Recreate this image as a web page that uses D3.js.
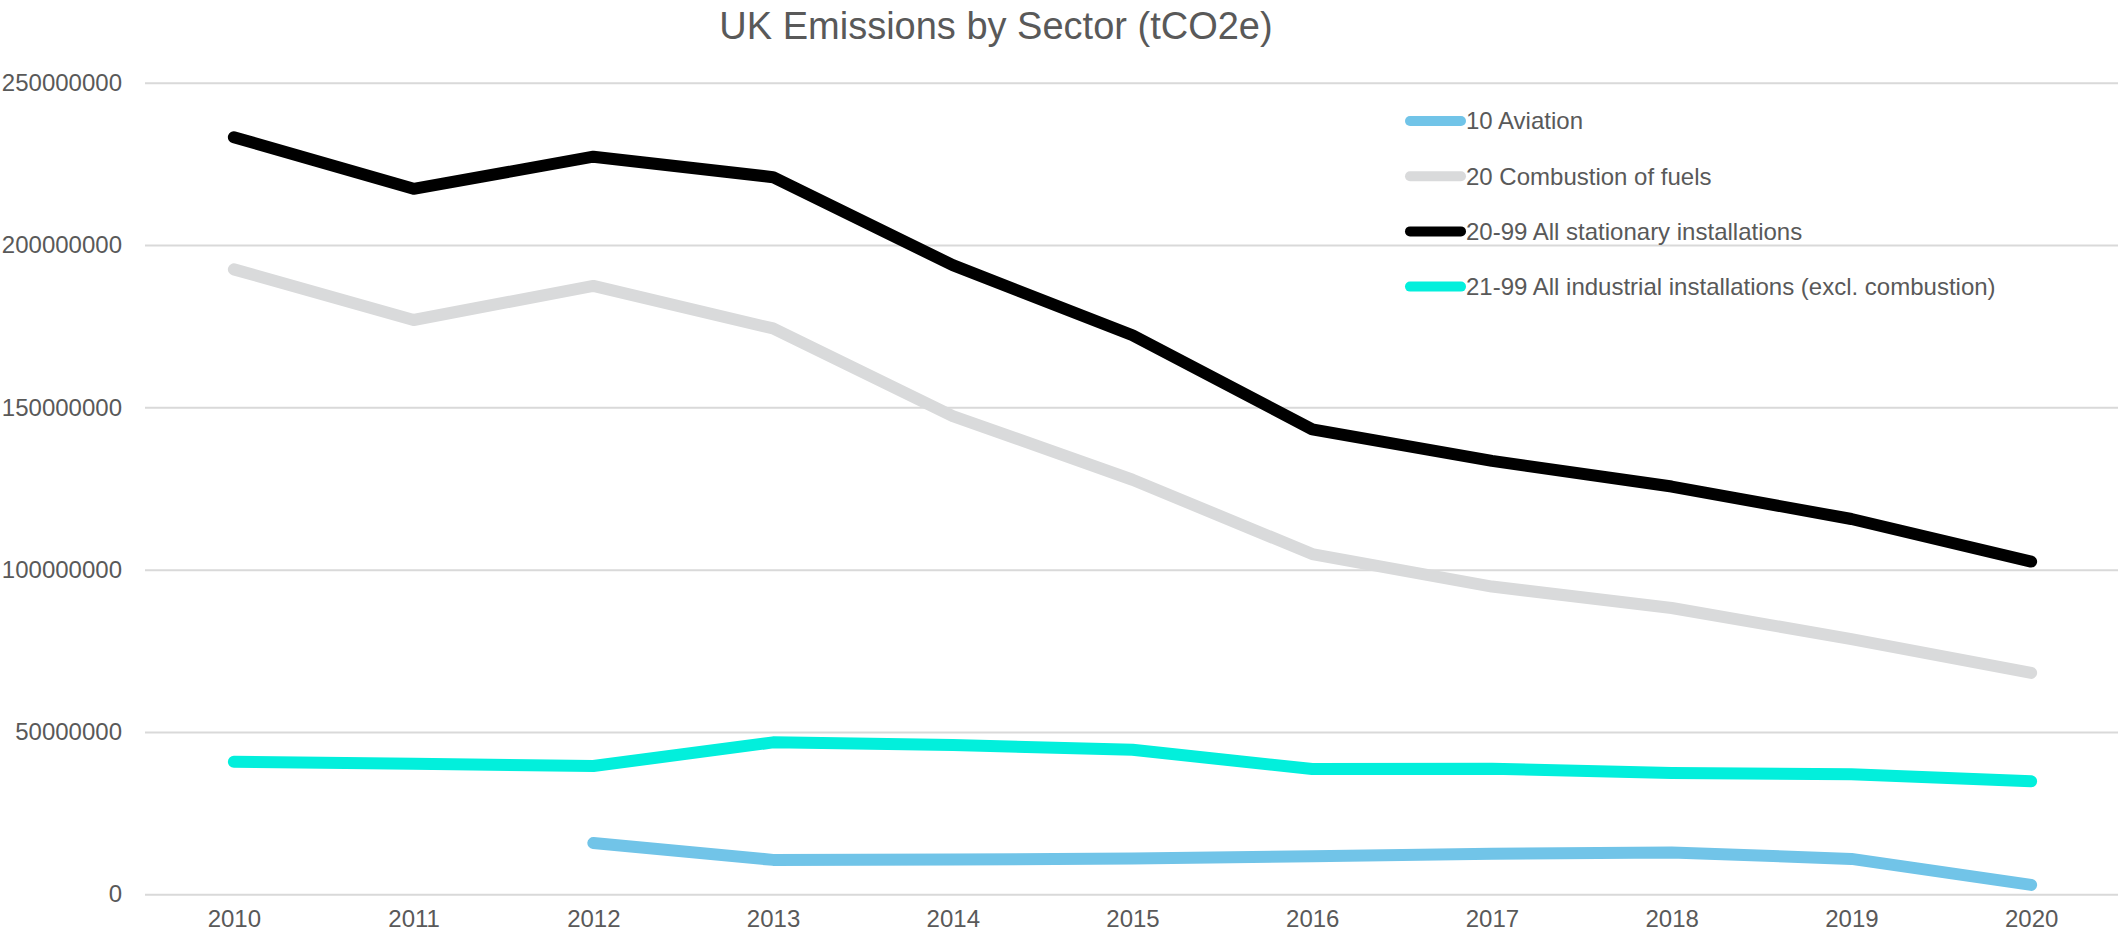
<!DOCTYPE html>
<html>
<head>
<meta charset="utf-8">
<script src="https://cdn.jsdelivr.net/npm/d3@7"></script>
<style>
  html, body { margin: 0; padding: 0; background: #ffffff; }
  svg { display: block; font-family: "Liberation Sans", Arial, sans-serif; }
</style>
</head>
<body>
<svg id="chart" width="2118" height="937"></svg>
<script>
// Years on the category axis
const years = ["2010", "2011", "2012", "2013", "2014", "2015", "2016", "2017", "2018", "2019", "2020"];

// Emissions per sector, tCO2e (null = no reported value)
const aviation = [null, null, 15.8e6, 10.6e6, 10.7e6, 11.0e6, 11.7e6, 12.5e6, 12.9e6, 10.9e6, 2.9e6];
const combustion = [192.5e6, 176.9e6, 187.4e6, 174.3e6, 147.3e6, 127.7e6, 104.8e6, 94.8e6, 88.2e6, 78.6e6, 68.2e6];
const stationary = [233.2e6, 217.3e6, 227.2e6, 220.9e6, 193.8e6, 172.2e6, 143.2e6, 133.5e6, 125.6e6, 115.6e6, 102.5e6];
const industrial = [40.8e6, 40.2e6, 39.5e6, 46.8e6, 46.0e6, 44.5e6, 38.6e6, 38.7e6, 37.4e6, 37.0e6, 34.8e6];

// Y-axis tick values
const yTicks = [0, 50000000, 100000000, 150000000, 200000000, 250000000];

const seriesNames = [
  "10 Aviation",
  "20 Combustion of fuels",
  "20-99 All stationary installations",
  "21-99 All industrial installations (excl. combustion)"
];
const seriesValues = [aviation, combustion, stationary, industrial];
const seriesColors = ["#71c4e8", "#d9dadb", "#000000", "#02efdc"];

const series = seriesNames.map((name, i) => ({
  name, color: seriesColors[i], values: seriesValues[i]
}));

const svg = d3.select("#chart");
const textColor = "#595959";

const x = d3.scalePoint().domain(years).range([144, 2121]).padding(0.5);
const y = d3.scaleLinear().domain([0, 250000000]).range([894.3, 82.7]);

// Horizontal gridlines and value labels
const yAxis = d3.axisLeft(y)
  .tickValues(yTicks)
  .tickSize(-(2118 - 145))
  .tickPadding(23)
  .tickFormat(d3.format("d"));

const gy = svg.append("g")
  .attr("transform", "translate(145,0)")
  .call(yAxis);
gy.select(".domain").remove();
gy.selectAll(".tick line").attr("stroke", "#d9d9d9").attr("stroke-width", 2);
gy.selectAll(".tick text")
  .attr("fill", textColor)
  .attr("font-size", 24)
  .attr("font-family", "Liberation Sans, Arial, sans-serif");

// Category labels
const xAxis = d3.axisBottom(x).tickSize(0).tickPadding(16);
const gx = svg.append("g")
  .attr("transform", "translate(0,894.3)")
  .call(xAxis);
gx.select(".domain").remove();
gx.selectAll(".tick text")
  .attr("fill", textColor)
  .attr("font-size", 24)
  .attr("font-family", "Liberation Sans, Arial, sans-serif");

// Series lines
const line = d3.line()
  .defined(d => d.v !== null)
  .x(d => x(d.year))
  .y(d => y(d.v));

svg.append("g")
  .selectAll("path")
  .data(series)
  .join("path")
  .attr("fill", "none")
  .attr("stroke", d => d.color)
  .attr("stroke-width", 12)
  .attr("stroke-linecap", "round")
  .attr("stroke-linejoin", "round")
  .attr("d", d => line(d.values.map((v, i) => ({ year: years[i], v }))));

// Title
svg.append("text")
  .attr("x", 996)
  .attr("y", 39)
  .attr("text-anchor", "middle")
  .attr("fill", textColor)
  .attr("font-size", 38)
  .text("UK Emissions by Sector (tCO2e)");

// Legend
const legend = svg.append("g").attr("transform", "translate(1405,121)");
const rows = legend.selectAll("g")
  .data(series)
  .join("g")
  .attr("transform", (d, i) => `translate(0,${i * 55.2})`);
rows.append("line")
  .attr("x1", 5).attr("x2", 56)
  .attr("y1", 0).attr("y2", 0)
  .attr("stroke", d => d.color)
  .attr("stroke-width", 10)
  .attr("stroke-linecap", "round");
rows.append("text")
  .attr("x", 61)
  .attr("y", 0)
  .attr("dy", "0.35em")
  .attr("fill", textColor)
  .attr("font-size", 24)
  .text(d => d.name);
</script>
</body>
</html>
